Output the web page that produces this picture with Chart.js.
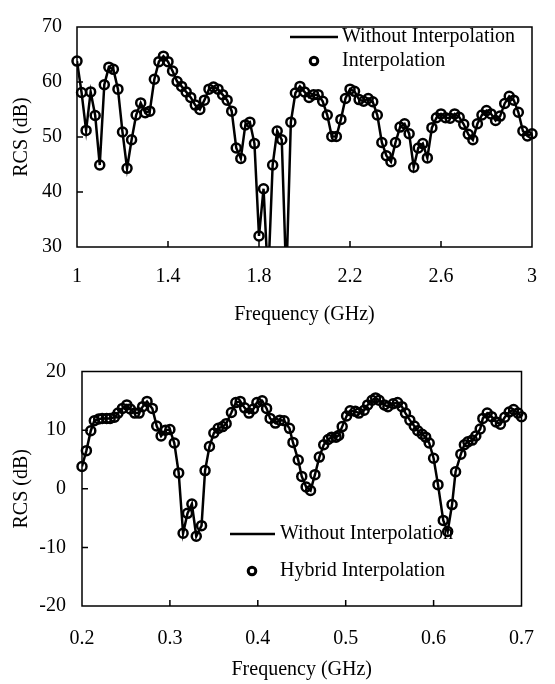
<!DOCTYPE html>
<html><head><meta charset="utf-8">
<script src="https://cdn.jsdelivr.net/npm/chart.js@4.4.1/dist/chart.umd.min.js"></script>
<style>
html,body{margin:0;padding:0;background:#fff;}
#wrap{position:relative;width:555px;height:684px;}
canvas{position:absolute;left:0;}
</style></head><body>
<div id="wrap">
<canvas id="c1" width="555" height="342" style="top:0"></canvas>
<canvas id="c2" width="555" height="342" style="top:342px"></canvas>
</div>
<script>
// ---------- DATA ----------
const topFreq = [1.00,1.02,1.04,1.06,1.08,1.10,1.12,1.14,1.16,1.18,1.20,1.22,1.24,1.26,1.28,1.30,1.32,1.34,1.36,1.38,
1.40,1.42,1.44,1.46,1.48,1.50,1.52,1.54,1.56,1.58,1.60,1.62,1.64,1.66,1.68,1.70,1.72,1.74,1.76,1.78,
1.80,1.82,1.84,1.86,1.88,1.90,1.92,1.94,1.96,1.98,2.00,2.02,2.04,2.06,2.08,2.10,2.12,2.14,2.16,2.18,
2.20,2.22,2.24,2.26,2.28,2.30,2.32,2.34,2.36,2.38,2.40,2.42,2.44,2.46,2.48,2.50,2.52,2.54,2.56,2.58,
2.60,2.62,2.64,2.66,2.68,2.70,2.72,2.74,2.76,2.78,2.80,2.82,2.84,2.86,2.88,2.90,2.92,2.94,2.96,2.98,3.00];
const topRcs = [63.8,58.1,51.2,58.2,53.9,44.9,59.5,62.7,62.3,58.7,50.9,44.3,49.5,54.0,56.2,54.4,54.7,60.5,63.7,64.7,
63.7,62.0,60.1,59.2,58.2,57.2,55.8,55.0,56.7,58.7,59.1,58.7,57.7,56.7,54.7,48.0,46.1,52.2,52.7,48.8,
32.0,40.6,24.0,44.9,51.1,49.5,24.0,52.7,58.0,59.2,58.2,57.2,57.7,57.7,56.5,54.0,50.1,50.1,53.2,57.0,
58.7,58.3,56.8,56.5,57.0,56.4,54.0,49.0,46.6,45.5,49.0,51.8,52.4,50.6,44.5,48.0,48.8,46.2,51.7,53.5,
54.2,53.5,53.4,54.2,53.6,52.3,50.5,49.5,52.4,54.0,54.8,54.2,53.0,53.8,56.1,57.4,56.7,54.5,51.1,50.2,50.6];
const topXTicks = [1, 1.4, 1.8, 2.2, 2.6, 3];
const topXTickLabels = ['1','1.4','1.8','2.2','2.6','3'];
const topYTicks = [30, 40, 50, 60, 70];
const topLegend = ['Without Interpolation', 'Interpolation'];

const botFreq = [0.200,0.205,0.210,0.214,0.219,0.223,0.228,0.232,0.237,0.241,0.246,0.251,0.255,0.260,0.265,0.269,0.274,0.280,0.285,0.290,
0.295,0.300,0.305,0.310,0.315,0.320,0.325,0.330,0.336,0.340,0.345,0.350,0.355,0.360,0.364,0.370,0.375,0.380,0.385,0.390,
0.395,0.399,0.405,0.410,0.414,0.420,0.425,0.430,0.436,0.440,0.446,0.450,0.455,0.460,0.465,0.470,0.475,0.480,0.484,0.489,
0.492,0.496,0.501,0.505,0.511,0.515,0.521,0.525,0.530,0.534,0.538,0.544,0.548,0.554,0.559,0.564,0.568,0.573,0.578,0.582,
0.587,0.591,0.595,0.600,0.605,0.611,0.616,0.621,0.625,0.631,0.635,0.639,0.644,0.648,0.653,0.656,0.661,0.666,0.671,0.676,
0.681,0.686,0.691,0.696,0.700];
const botRcs = [3.8,6.5,9.9,11.6,11.9,12.0,12.0,12.0,12.2,12.9,13.7,14.3,13.6,12.9,12.9,14.0,14.9,13.7,10.7,9.0,
10.0,10.1,7.8,2.7,-7.6,-4.2,-2.6,-8.1,-6.3,3.1,7.2,9.5,10.3,10.6,11.1,13.0,14.7,14.9,13.8,12.9,
13.6,14.7,15.0,13.7,12.0,11.2,11.7,11.6,10.3,7.9,4.9,2.1,0.3,-0.3,2.4,5.4,7.5,8.4,8.8,8.8,
9.1,10.6,12.4,13.3,13.2,12.9,13.4,14.3,15.1,15.5,15.1,14.3,14.0,14.5,14.7,14.0,12.9,11.7,10.7,9.9,
9.3,8.8,7.8,5.2,0.7,-5.4,-7.3,-2.7,2.9,5.9,7.5,8.0,8.3,9.0,10.2,12.0,12.9,12.3,11.4,11.0,
12.2,13.1,13.5,12.9,12.3];
const botXTicks = [0.2, 0.3, 0.4, 0.5, 0.6, 0.7];
const botXTickLabels = ['0.2','0.3','0.4','0.5','0.6','0.7'];
const botYTicks = [-20, -10, 0, 10, 20];
const botLegend = ['Without Interpolation', 'Hybrid Interpolation'];

const xTitle = 'Frequency (GHz)';
const yTitle = 'RCS (dB)';

// ---------- DRAWING ----------
const FAM = '"Liberation Serif", "Times New Roman", serif';
const tickFont = {family: FAM, size: 20};
const titleFont = {family: FAM, size: 20};

const framePlugin = {
  id: 'frame',
  afterDraw(chart, args, o) {
    const {ctx, chartArea: a, scales: {x, y}} = chart;
    ctx.save();
    ctx.strokeStyle = '#000';
    ctx.lineWidth = 1.5;
    ctx.strokeRect(a.left, a.top, a.right - a.left, a.bottom - a.top);
    ctx.beginPath();
    x.ticks.forEach(t => {
      const px = x.getPixelForValue(t.value);
      if (px > a.left + 1 && px < a.right - 1) { ctx.moveTo(px, a.bottom); ctx.lineTo(px, a.bottom - 6); }
    });
    y.ticks.forEach(t => {
      const py = y.getPixelForValue(t.value);
      if (py > a.top + 1 && py < a.bottom - 1) { ctx.moveTo(a.left, py); ctx.lineTo(a.left + 6, py); }
    });
    ctx.stroke();
    // legend
    ctx.font = '20px ' + FAM;
    ctx.fillStyle = '#000';
    ctx.textBaseline = 'middle';
    ctx.textAlign = 'left';
    ctx.lineWidth = 2.5;
    ctx.beginPath();
    ctx.moveTo(o.lineX1, o.row1); ctx.lineTo(o.lineX2, o.row1);
    ctx.stroke();
    ctx.fillText(o.labels[0], o.textX, o.row1);
    ctx.lineWidth = 3;
    ctx.beginPath();
    ctx.arc(o.circX, o.row2, 3.8, 0, Math.PI * 2);
    ctx.stroke();
    ctx.fillText(o.labels[1], o.textX, o.row2);
    ctx.restore();
  }
};

function makeChart(id, freq, rcs, xr, yr, xTicks, xLabels, yTicks, layout, legend) {
  const pts = freq.map((f, i) => ({x: f, y: rcs[i]}));
  return new Chart(document.getElementById(id), {
    type: 'line',
    data: {
      datasets: [
        {data: pts, borderColor: '#000', borderWidth: 2.5, pointRadius: 0, tension: 0, fill: false},
        {data: pts, showLine: false, pointRadius: 4.5, pointBorderWidth: 2.5, pointBorderColor: '#000',
         pointBackgroundColor: 'rgba(0,0,0,0)', clip: {left: 8, right: 8, top: 8, bottom: 0}}
      ]
    },
    options: {
      responsive: false,
      animation: false,
      events: [],
      layout: {padding: layout.padding},
      plugins: {legend: {display: false}, tooltip: {enabled: false}, frame: legend},
      scales: {
        x: {
          type: 'linear', min: xr[0], max: xr[1],
          afterBuildTicks: s => { s.ticks = xTicks.map(v => ({value: v})); },
          ticks: {callback: (v, i) => xLabels[i], font: tickFont, color: '#000', padding: layout.xPad, maxRotation: 0, autoSkip: false},
          grid: {display: false, drawTicks: false},
          border: {display: false},
          title: {display: true, text: xTitle, font: titleFont, color: '#000', padding: {top: 0, bottom: layout.xTitlePad}},
          afterFit: s => { s.height = layout.xH; }
        },
        y: {
          type: 'linear', min: yr[0], max: yr[1],
          afterBuildTicks: s => { s.ticks = yTicks.map(v => ({value: v})); },
          ticks: {font: tickFont, color: '#000', padding: layout.yPad},
          grid: {display: false, drawTicks: false},
          border: {display: false},
          title: {display: true, text: yTitle, font: titleFont, color: '#000', padding: {top: 10, bottom: 0}},
          afterFit: s => { s.width = layout.yW; }
        }
      }
    },
    plugins: [framePlugin]
  });
}

makeChart('c1', topFreq, topRcs, [1, 3], [30, 70], topXTicks, topXTickLabels, topYTicks,
  {padding: {left: 0, right: 16, top: 15, bottom: 0}, xH: 95, yW: 77, xPad: 18, yPad: 15, xTitlePad: 15},
  {labels: topLegend, lineX1: 290, lineX2: 338, row1: 37, circX: 314, row2: 61, textX: 342});

makeChart('c2', botFreq, botRcs, [0.2, 0.7], [-20, 20], botXTicks, botXTickLabels, botYTicks,
  {padding: {left: 0, right: 17, top: 29.5, bottom: 0}, xH: 78, yW: 82, xPad: 21, yPad: 16, xTitlePad: 2},
  {labels: botLegend, lineX1: 230, lineX2: 275, row1: 192, circX: 252, row2: 229, textX: 280});
</script>
</body></html>
